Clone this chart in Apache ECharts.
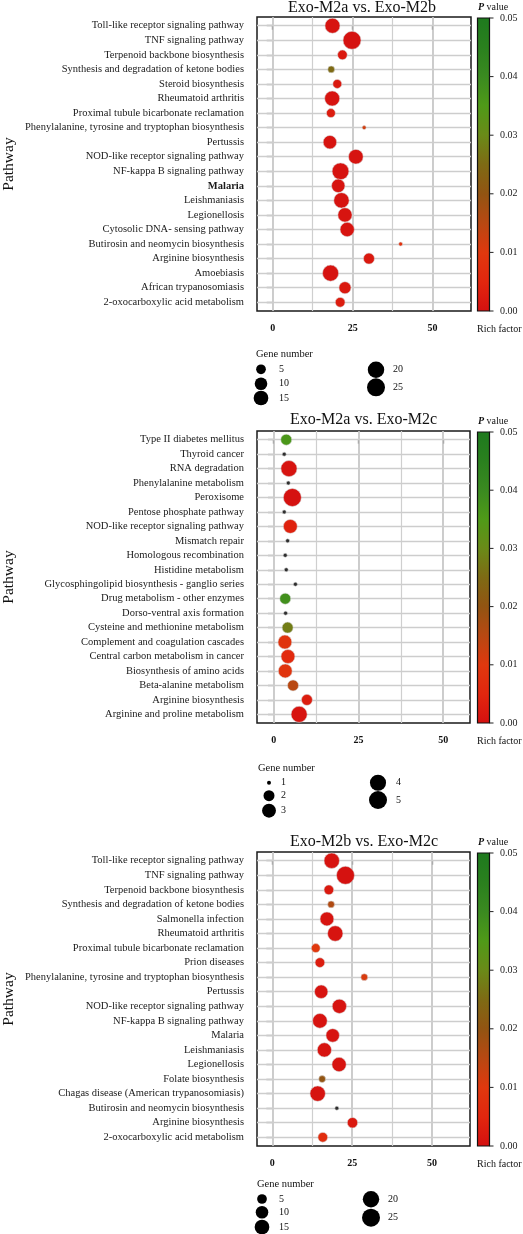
<!DOCTYPE html>
<html><head><meta charset="utf-8">
<script src="https://cdn.jsdelivr.net/npm/echarts@6/dist/echarts.min.js"></script>
<style>html,body{margin:0;padding:0;background:#fff}#c{width:523px;height:1234px}</style>
</head><body><div id="c"></div>
<script>
// ---------------- DATA ----------------
const titles = ['Exo-M2a vs. Exo-M2b', 'Exo-M2a vs. Exo-M2c', 'Exo-M2b vs. Exo-M2c'];

const pathways1 = ['Toll-like receptor signaling pathway','TNF signaling pathway','Terpenoid backbone biosynthesis','Synthesis and degradation of ketone bodies','Steroid biosynthesis','Rheumatoid arthritis','Proximal tubule bicarbonate reclamation','Phenylalanine, tyrosine and tryptophan biosynthesis','Pertussis','NOD-like receptor signaling pathway','NF-kappa B signaling pathway','Malaria','Leishmaniasis','Legionellosis','Cytosolic DNA- sensing pathway','Butirosin and neomycin biosynthesis','Arginine biosynthesis','Amoebiasis','African trypanosomiasis','2-oxocarboxylic acid metabolism'];
const rich1  = [18.7, 24.8, 21.8, 18.3, 20.2, 18.6, 18.2, 28.6, 17.9, 26.0, 21.2, 20.5, 21.5, 22.6, 23.3, 40.0, 30.1, 18.1, 22.6, 21.1];
const genes1 = [16, 25, 5, 2, 4, 16, 4, 1, 12, 15, 21, 12, 17, 14, 14, 1, 7, 19, 9, 5];
const p1     = [0.001, 0.0005, 0.002, 0.025, 0.002, 0.001, 0.003, 0.012, 0.001, 0.0008, 0.0006, 0.001, 0.0008, 0.001, 0.001, 0.008, 0.002, 0.0007, 0.002, 0.003];

const pathways2 = ['Type II diabetes mellitus','Thyroid cancer','RNA degradation','Phenylalanine metabolism','Peroxisome','Pentose phosphate pathway','NOD-like receptor signaling pathway','Mismatch repair','Homologous recombination','Histidine metabolism','Glycosphingolipid biosynthesis - ganglio series','Drug metabolism - other enzymes','Dorso-ventral axis formation','Cysteine and methionine metabolism','Complement and coagulation cascades','Central carbon metabolism in cancer','Biosynthesis of amino acids','Beta-alanine metabolism','Arginine biosynthesis','Arginine and proline metabolism'];
const rich2  = [3.7, 3.1, 4.5, 4.3, 5.5, 3.1, 4.9, 4.1, 3.4, 3.7, 6.4, 3.4, 3.5, 4.1, 3.3, 4.2, 3.4, 5.7, 9.8, 7.5];
const genes2 = [2, 1, 4, 1, 5, 1, 3, 1, 1, 1, 1, 2, 1, 2, 3, 3, 3, 2, 2, 4];
const p2     = [0.036, null, 0.001, null, 0.0005, null, 0.004, null, null, null, null, 0.038, null, 0.028, 0.009, 0.006, 0.009, 0.015, 0.003, 0.001];

const pathways3 = ['Toll-like receptor signaling pathway','TNF signaling pathway','Terpenoid backbone biosynthesis','Synthesis and degradation of ketone bodies','Salmonella infection','Rheumatoid arthritis','Proximal tubule bicarbonate reclamation','Prion diseases','Phenylalanine, tyrosine and tryptophan biosynthesis','Pertussis','NOD-like receptor signaling pathway','NF-kappa B signaling pathway','Malaria','Leishmaniasis','Legionellosis','Folate biosynthesis','Chagas disease (American trypanosomiasis)','Butirosin and neomycin biosynthesis','Arginine biosynthesis','2-oxocarboxylic acid metabolism'];
const rich3  = [18.6, 22.9, 17.7, 18.4, 17.1, 19.7, 13.6, 14.9, 28.8, 15.3, 21.0, 14.9, 18.9, 16.3, 20.9, 15.6, 14.2, 20.2, 25.1, 15.8];
const genes3 = [17, 25, 5, 2, 13, 17, 4, 5, 2, 12, 14, 15, 12, 14, 14, 2, 17, 1, 6, 5];
const p3     = [0.001, 0.0005, 0.002, 0.016, 0.001, 0.001, 0.01, 0.003, 0.011, 0.001, 0.001, 0.001, 0.001, 0.001, 0.001, 0.02, 0.0008, null, 0.002, 0.007];

const xTicks = [0, 25, 50];
const xMinorGrid = [12.5, 37.5];
const pTicks = [0, 0.01, 0.02, 0.03, 0.04, 0.05];
const pTickLabels = ['0.00', '0.01', '0.02', '0.03', '0.04', '0.05'];
const breaks1 = [5, 10, 15, 20, 25];
const breaks2 = [1, 2, 3, 4, 5];
const breaks3 = [5, 10, 15, 20, 25];
const boldLabels1 = ['Malaria'];

// ---------------- STYLE / LAYOUT ----------------
const FONT = 'Liberation Serif';
const colorStops = ['#d41010', '#e2260e', '#e0380e', '#b84812', '#925412', '#7e6a14', '#6a8a18', '#4f9a18', '#3a8a20', '#2a801e', '#1e7a1e'];
const P_MAX = 0.05;
const NA_COLOR = '#2e2e2e';

const panels = [
  {title: titles[0], names: pathways1, rich: rich1, genes: genes1, p: p1, breaks: breaks1, bold: boldLabels1},
  {title: titles[1], names: pathways2, rich: rich2, genes: genes2, p: p2, breaks: breaks2, bold: []},
  {title: titles[2], names: pathways3, rich: rich3, genes: genes3, p: p3, breaks: breaks3, bold: []}
];
const layout = [
  {left:257, top:17, width:214, height:294, xMin:-4.9, xMax:62, titleLeft:288, titleTop:0,
   legTitle:[256,354.7], col1:[261,279], col2:[376,393], rows1:[369.3,383.7,398], rows2:[369.7,387.3]},
  {left:257, top:431, width:213, height:292, xMin:-4.93, xMax:57.9, titleLeft:290, titleTop:412,
   legTitle:[258,768], col1:[269,281], col2:[378,396], rows1:[782.7,795.7,810.7], rows2:[782.7,800]},
  {left:257, top:852, width:213, height:294, xMin:-4.8, xMax:61.9, titleLeft:290, titleTop:834,
   legTitle:[257,1184.7], col1:[262,279], col2:[371,388], rows1:[1199,1212.3,1227], rows2:[1199.3,1217.7]}
];

function sizeFor(v, gmin, gmax) { return 4 + 14 * Math.sqrt((v - gmin) / (gmax - gmin)); }

const option = {
  animation: false,
  backgroundColor: '#fff',
  textStyle: {fontFamily: FONT},
  title: [], grid: [], xAxis: [], yAxis: [], series: [], visualMap: [], graphic: []
};

panels.forEach((pn, i) => {
  const L = layout[i];
  const n = pn.names.length;
  const gmin = Math.min(...pn.genes), gmax = Math.max(...pn.genes);
  const idx = pn.names.map((_, k) => k);

  option.title.push({text: pn.title, left: L.titleLeft, top: L.titleTop, padding: 0,
    textStyle: {fontFamily: FONT, fontSize: 16, fontWeight: 'normal', color: '#111'}});
  option.grid.push({left: L.left, top: L.top, width: L.width, height: L.height, show: true,
    borderColor: '#1a1a1a', borderWidth: 1.5, backgroundColor: '#fff', containLabel: false});
  option.xAxis.push({type: 'value', gridIndex: i, min: L.xMin, max: L.xMax,
    axisLine: {show: false}, splitLine: {show: false},
    axisTick: {show: true, length: 4, customValues: xTicks, lineStyle: {color: '#222', width: 1.2}},
    axisLabel: {customValues: xTicks, margin: 12, fontFamily: FONT, fontSize: 10, fontWeight: 'bold', color: '#111'}});
  option.yAxis.push({type: 'value', gridIndex: i, inverse: true, min: -0.6, max: n - 1 + 0.6,
    axisLine: {show: false}, splitLine: {show: false},
    axisTick: {show: true, length: 6, customValues: idx, lineStyle: {color: '#222', width: 1.2}},
    axisLabel: {customValues: idx, margin: 13, fontFamily: FONT, fontSize: 10.5, color: '#1a1a1a',
      formatter: v => { const s = pn.names[Math.round(v)] || ''; return pn.bold.includes(s) ? '{b|' + s + '}' : s; },
      rich: {b: {fontFamily: FONT, fontSize: 10.5, fontWeight: 'bold', color: '#1a1a1a'}}}});

  // grid lines through the axes' scales
  const gl = [];
  xTicks.forEach(v => gl.push({xAxis: v, lineStyle: {color: '#c4c4c4', width: 1.7, type: 'solid'}}));
  xMinorGrid.forEach(v => gl.push({xAxis: v, lineStyle: {color: '#cfcfcf', width: 1.2, type: 'solid'}}));
  idx.forEach(k => gl.push({yAxis: k, lineStyle: {color: '#cdcdcd', width: 1.4, type: 'solid'}}));
  option.series.push({type: 'scatter', xAxisIndex: i, yAxisIndex: i, data: [], silent: true, z: 1,
    markLine: {silent: true, z: 1, symbol: ['none', 'none'], label: {show: false}, animation: false, data: gl}});

  const mainData = [], naData = [];
  idx.forEach(k => {
    const row = [pn.rich[k], k, pn.genes[k], pn.p[k]];
    if (pn.p[k] == null) naData.push(row); else mainData.push(row);
  });
  const mainIndex = option.series.length;
  option.series.push({type: 'scatter', xAxisIndex: i, yAxisIndex: i, z: 3, data: mainData,
    symbolSize: v => sizeFor(v[2], gmin, gmax),
    itemStyle: {opacity: 1, borderColor: 'rgba(215,215,215,0.7)', borderWidth: 0.8}});
  option.series.push({type: 'scatter', xAxisIndex: i, yAxisIndex: i, z: 3, data: naData,
    symbolSize: v => sizeFor(v[2], gmin, gmax),
    itemStyle: {color: NA_COLOR, opacity: 1, borderColor: 'rgba(215,215,215,0.7)', borderWidth: 0.8}});
  option.visualMap.push({show: false, type: 'continuous', seriesIndex: mainIndex, dimension: 3,
    min: 0, max: P_MAX, inRange: {color: colorStops}});

  // colour bar
  const cbX = 477.5, cbW = 12, cbTop = L.top + 1, cbH = L.height - 1;
  option.graphic.push({type: 'rect', shape: {x: cbX, y: cbTop, width: cbW, height: cbH},
    style: {fill: {type: 'linear', x: 0, y: 1, x2: 0, y2: 0,
      colorStops: colorStops.map((c, j) => ({offset: j / (colorStops.length - 1), color: c}))},
      stroke: '#111', lineWidth: 1.2}, z: 10});
  pTicks.forEach((pv, j) => {
    const y = cbTop + cbH * (1 - pv / P_MAX);
    option.graphic.push({type: 'line', shape: {x1: cbX + cbW, y1: y, x2: cbX + cbW + 4, y2: y},
      style: {stroke: '#222', lineWidth: 1}, z: 10});
    option.graphic.push({type: 'text', x: 500, y: y, z: 10,
      style: {text: pTickLabels[j], font: '10px "' + FONT + '"', fill: '#222', verticalAlign: 'middle', align: 'left'}});
  });
  option.graphic.push({type: 'text', x: 478, y: L.top - 10, z: 10,
    style: {text: '{p|P} value', font: '10px "' + FONT + '"', fill: '#111', verticalAlign: 'middle', align: 'left',
      rich: {p: {fontFamily: FONT, fontSize: 10, fontStyle: 'italic', fontWeight: 'bold', fill: '#111'}}}});
  option.graphic.push({type: 'text', x: 477, y: L.top + L.height + 18, z: 10,
    style: {text: 'Rich factor', font: '10px "' + FONT + '"', fill: '#111', verticalAlign: 'middle', align: 'left'}});
  option.graphic.push({type: 'text', x: 9, y: L.top + L.height / 2, rotation: Math.PI / 2, z: 10,
    style: {text: 'Pathway', font: '15.5px "' + FONT + '"', fill: '#111', verticalAlign: 'middle', align: 'center'}});

  // gene number legend
  option.graphic.push({type: 'text', x: L.legTitle[0], y: L.legTitle[1], z: 10,
    style: {text: 'Gene number', font: '10.5px "' + FONT + '"', fill: '#111', verticalAlign: 'middle', align: 'left'}});
  pn.breaks.forEach((b, j) => {
    const inFirst = j < 3;
    const col = inFirst ? L.col1 : L.col2;
    const y = inFirst ? L.rows1[j] : L.rows2[j - 3];
    option.graphic.push({type: 'circle', shape: {cx: col[0], cy: y, r: sizeFor(b, gmin, gmax) / 2}, style: {fill: '#000'}, z: 10});
    option.graphic.push({type: 'text', x: col[1], y: y, z: 10,
      style: {text: String(b), font: '10px "' + FONT + '"', fill: '#111', verticalAlign: 'middle', align: 'left'}});
  });
});

const chart = echarts.init(document.getElementById('c'), null, {renderer: 'canvas'});
chart.setOption(option);
</script>
</body></html>
